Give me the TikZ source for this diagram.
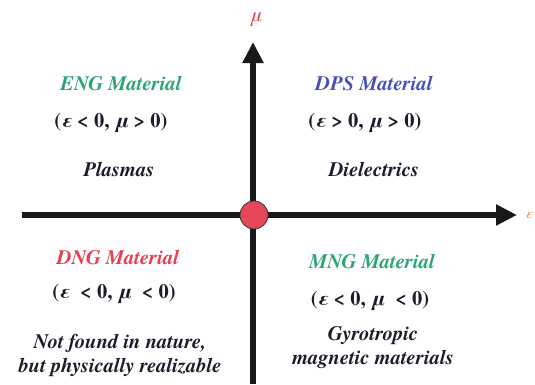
\documentclass[tikz,border=0pt]{standalone}
\usepackage{fontspec}
\setmainfont{texgyretermes}[Extension=.otf,UprightFont=*-regular,BoldFont=*-bold,ItalicFont=*-italic,BoldItalicFont=*-bolditalic]
\usepackage{tikz}
\usetikzlibrary{arrows.meta,positioning}
\definecolor{enggreen}{HTML}{2BA573}
\definecolor{dpsblue}{HTML}{4A4FB8}
\definecolor{dngred}{HTML}{E53E4F}
\definecolor{inkdark}{HTML}{1C1C2A}
\definecolor{axisorange}{HTML}{F08A3C}
\newcommand{\qtext}[1]{\rmfamily\fontsize{20.5}{25}\selectfont\bfseries\itshape #1}

\begin{document}
\begin{tikzpicture}[
  x=1pt,y=-1pt,
  matlbl/.style={font=\qtext{}},
  cond/.style={text=inkdark,font=\rmfamily\fontsize{20.5}{25}\selectfont\bfseries},
  desc/.style={text=inkdark,font=\qtext{},align=center},
  axisline/.style={line width=6pt,draw=black!90,-{Triangle[length=21pt,width=20pt]}},
  every node/.style={inner sep=0pt},
]
\useasboundingbox (0,0) rectangle (535,384);
\fill[white] (0,0) rectangle (535,384);

% axes
\coordinate (xstart) at (22,215);
\coordinate (xend) at (517,215);
\coordinate (ystart) at (253,384);
\coordinate (yend) at (253,42);
\draw[axisline] (xstart) -- (xend);
\draw[axisline] (ystart) -- (yend);
\node[circle,minimum size=28pt,fill=dngred!95!white,draw=black!80,line width=0.8pt] (origin) at (254,215) {};
\node[text=dngred,font=\rmfamily\fontsize{20}{24}\selectfont\itshape] (mu) at (256,20) {μ};
\node[text=axisorange,font=\rmfamily\fontsize{14}{16}\selectfont\itshape] (eps) at (529,215) {ε};

% upper left
\node[matlbl,text=enggreen] (eng) at (121,84) {ENG Material};
\node[cond] (engc) at (111,123) {(\textit{ε} < 0, \textit{μ} > 0)};
\node[desc] (engd) at (119,169) {Plasmas};

% upper right
\node[matlbl,text=dpsblue] (dps) at (374,84) {DPS Material};
\node[cond] (dpsc) at (365,123) {(\textit{ε} > 0, \textit{μ} > 0)};
\node[desc] (dpsd) at (374,169) {Dielectrics};

% lower left
\node[matlbl,text=dngred] (dng) at (118,258) {DNG Material};
\node[cond] (dngc) at (114,294) {(\textit{ε}\ \ < 0, \textit{μ}\ \ < 0)};
\node[desc] (dngd) at (120,355) {Not found in nature,\\[-1pt]but physically realizable};

% lower right
\node[matlbl,text=enggreen] (mng) at (372,262) {MNG Material};
\node[cond] (mngc) at (370,301) {(\textit{ε} < 0, \textit{μ}\ \ < 0)};
\node[desc] (mngd) at (373,348) {Gyrotropic\\[-1pt]magnetic materials};
\end{tikzpicture}
\end{document}
